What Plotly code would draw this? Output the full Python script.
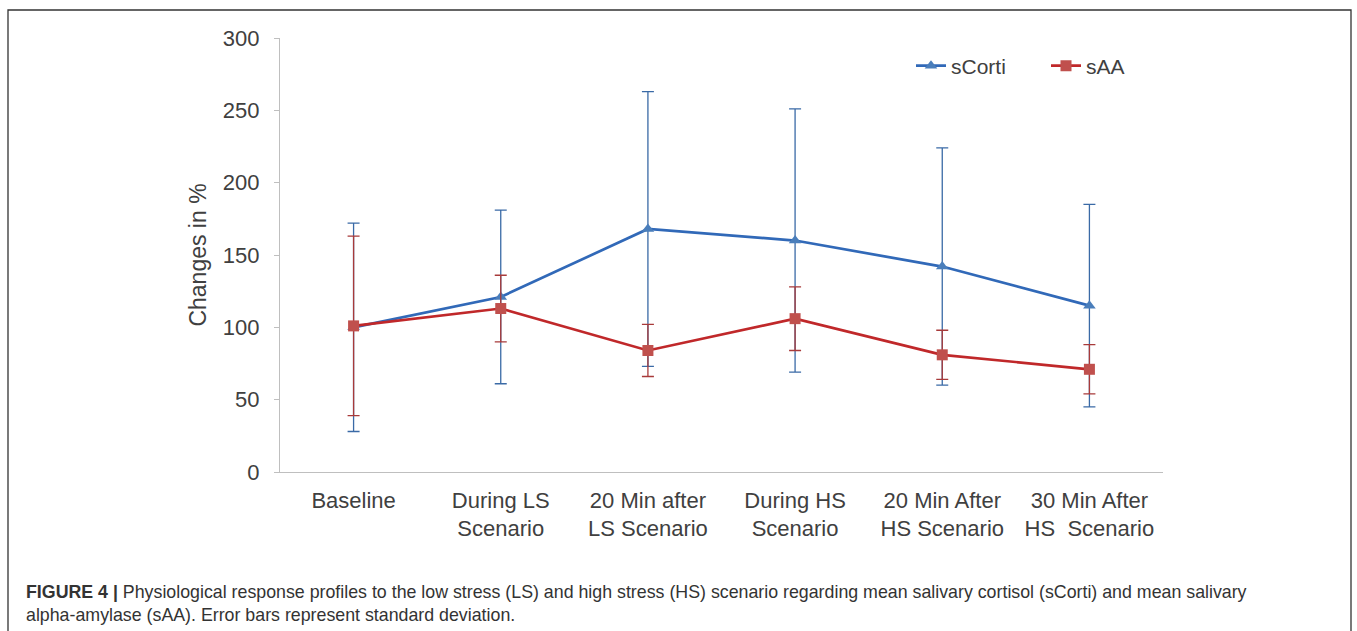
import plotly.graph_objects as go

categories = ["Baseline", "During LS<br>Scenario", "20 Min after<br>LS Scenario",
              "During HS<br>Scenario", "20 Min After<br>HS Scenario", "30 Min After<br>HS  Scenario"]
scorti = [100, 121, 168, 160, 142, 115]
scorti_sd = [72, 60, 95, 91, 82, 70]
saa = [101, 113, 84, 106, 81, 71]
saa_sd = [62, 23, 18, 22, 17, 17]
yticks = [0, 50, 100, 150, 200, 250, 300]

W, H = 1357, 631
L, R, T, B = 280, 1163, 38, 472

def px(x):
    return (x - L) / (R - L)

def py(y):
    return (B - y) / (B - T)

FONT = "Liberation Sans, Arial, sans-serif"
TXT = "#404040"

fig = go.Figure()
fig.add_trace(go.Scatter(
    x=categories, y=scorti, name="sCorti", mode="lines+markers",
    line=dict(color="#3169b8", width=2.7),
    marker=dict(symbol="triangle-up", size=11, color="#4a7ebb"),
    error_y=dict(type="data", array=scorti_sd, visible=True, color="#3a6aa6", thickness=1.3, width=6),
    legend="legend",
))
fig.add_trace(go.Scatter(
    x=categories, y=saa, name="sAA", mode="lines+markers",
    line=dict(color="#c0282a", width=2.7),
    marker=dict(symbol="square", size=11, color="#c0504d"),
    error_y=dict(type="data", array=saa_sd, visible=True, color="#a83a3a", thickness=1.3, width=6),
    legend="legend2",
))

leg_common = dict(orientation="h", xanchor="left", yanchor="middle",
                  font=dict(family=FONT, size=21, color=TXT), itemwidth=30,
                  bgcolor="rgba(0,0,0,0)")

fig.update_layout(
    width=W, height=H,
    margin=dict(l=L, r=W - R, t=T, b=H - B),
    paper_bgcolor="white", plot_bgcolor="white",
    font=dict(family=FONT, size=21, color=TXT),
    showlegend=True,
    legend=dict(x=px(911), y=py(66), **leg_common),
    legend2=dict(x=px(1046), y=py(66), **leg_common),
    xaxis=dict(type="category", range=[-0.5, 5.5], showline=True, linecolor="#bfbfbf",
               linewidth=1.3, ticks="", showgrid=False, ticklabelstandoff=8,
               tickfont=dict(family=FONT, size=22, color=TXT)),
    yaxis=dict(range=[0, 300], tickvals=yticks, showline=True, linecolor="#bfbfbf",
               linewidth=1.3, ticks="outside", ticklen=5, tickcolor="#bfbfbf",
               showgrid=False, zeroline=False, ticklabelstandoff=10,
               tickfont=dict(family=FONT, size=22, color=TXT),
               title=dict(text="Changes in %", font=dict(family=FONT, size=23, color=TXT), standoff=9)),
)

# outer frame (bottom edge falls outside the picture)
fig.add_shape(type="rect", xref="paper", yref="paper",
              x0=px(8), x1=px(1351), y0=py(645), y1=py(10),
              line=dict(color="#333333", width=1.3), fillcolor="rgba(0,0,0,0)", layer="below")

caption1 = ("<b>FIGURE 4 |</b> Physiological response profiles to the low stress (LS) and high stress (HS) "
            "scenario regarding mean salivary cortisol (sCorti) and mean salivary")
caption2 = "alpha-amylase (sAA). Error bars represent standard deviation."
for text, yy in [(caption1, 592), (caption2, 615)]:
    fig.add_annotation(text=text, xref="paper", yref="paper", x=px(24), y=py(yy),
                       xanchor="left", yanchor="middle", showarrow=False,
                       font=dict(family=FONT, size=17.8, color="#333333"))

fig.write_html("out.html", config={"displayModeBar": False},
               post_script="document.body.style.margin='0';document.body.style.overflow='hidden';")
